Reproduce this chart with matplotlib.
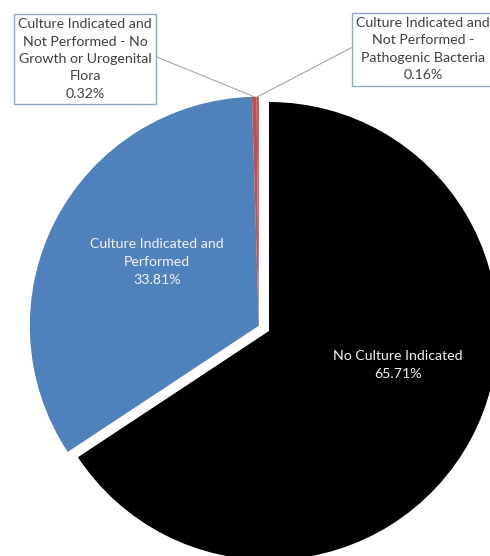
import numpy as np
import matplotlib
matplotlib.use("Agg")
import matplotlib.pyplot as plt

plt.rcParams['font.family'] = ['Lato', 'DejaVu Sans']

# dados do grafico
labels = ["No Culture Indicated",
          "Culture Indicated and\nPerformed",
          "Culture Indicated and\nNot Performed - No\nGrowth or Urogenital\nFlora",
          "Culture Indicated and\nNot Performed -\nPathogenic Bacteria"]
values = [65.71, 33.81, 0.32, 0.16]
colors = ["#000000", "#4F81BD", "#C0504D", "#C0504D"]
explode = [0, 0.05, 0, 0]

W, H = 490, 556
cx, cy, R = 269, 331, 229  # centro e raio da pizza em pixels (y para baixo)


def px(x, y):
    # pixel da imagem -> coordenadas dos dados (raio = 1)
    return ((x - cx) / R, (cy - y) / R)


fig = plt.figure(figsize=(W / 100, H / 100), dpi=100)
ax = fig.add_axes([0, 0, 1, 1])

wedges, _ = ax.pie(values, colors=colors, explode=explode, startangle=90,
                   counterclock=False, radius=1,
                   wedgeprops=dict(linewidth=0))

# as fatias vermelhas ficam junto da fatia azul
for w in wedges[2:]:
    w.set_center(wedges[1].center)

ax.set_xlim(-cx / R, (W - cx) / R)
ax.set_ylim(-(H - cy) / R, cy / R)
ax.set_aspect('auto')
ax.axis('off')

fs = 10.2
ls = 1.55

# rotulos dentro das fatias
ax.text(*px(398, 365), f"{labels[0]}\n{values[0]:.2f}%", color="#F2F2F2",
        fontsize=fs, ha='center', va='center', linespacing=ls)
ax.text(*px(157, 262), f"{labels[1]}\n{values[1]:.2f}%", color="#F2F2F2",
        fontsize=fs, ha='center', va='center', linespacing=ls)

# rotulos com caixa e linha guia
box = dict(boxstyle='square,pad=0.3', fc='white', ec='#8EA9C8', lw=1)
for i, pos, rel in [(2, (85, 59), (1.0, 0.55)), (3, (423, 49), (0.0, 0.56))]:
    w = wedges[i]
    ang = np.deg2rad((w.theta1 + w.theta2) / 2)
    tip = (w.center[0] + w.r * np.cos(ang), w.center[1] + w.r * np.sin(ang))
    ax.annotate(f"{labels[i]}\n{values[i]:.2f}%", xy=tip, xytext=px(*pos),
                ha='center', va='center', fontsize=fs, color='#404040',
                linespacing=ls, bbox=box, annotation_clip=False,
                arrowprops=dict(arrowstyle='-', color='#A6A6A6', lw=0.8,
                                shrinkA=0, shrinkB=0, relpos=rel))

plt.savefig("out.png", dpi=100)
